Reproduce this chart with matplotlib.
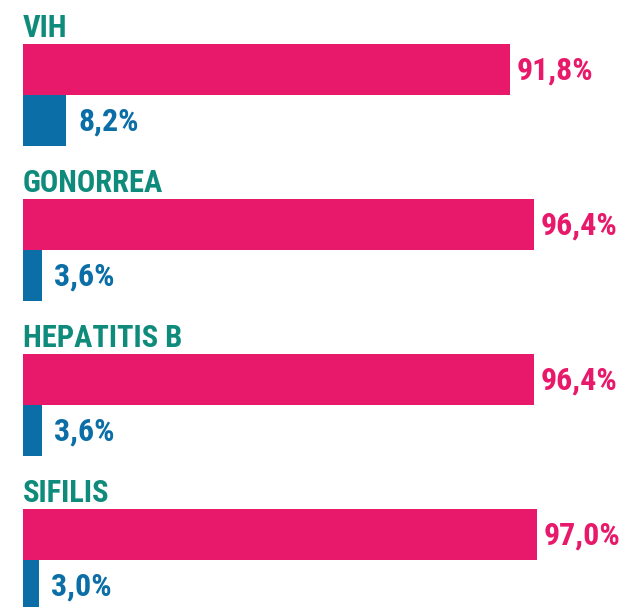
import matplotlib.pyplot as plt
from matplotlib import font_manager

categories = ['VIH', 'GONORREA', 'HEPATITIS B', 'SIFILIS']
pink_values = [91.8, 96.4, 96.4, 97.0]
blue_values = [8.2, 3.6, 3.6, 3.0]

pink = '#e8196a'
blue = '#0b6ea6'
teal = '#0f8b7c'

# pick a condensed face if one is around
installed = {f.name for f in font_manager.fontManager.ttflist}
candidates = ['Roboto Condensed', 'DejaVu Sans Condensed', 'Liberation Sans Narrow',
              'Roboto', 'DejaVu Sans']
font = [c for c in candidates if c in installed][0]


def fmt(v):
    return '{:.1f}%'.format(v).replace('.', ',')


fig = plt.figure(figsize=(6.26, 6.07), dpi=100)
ax = fig.add_axes([0, 0, 1, 1])

# axis in pixel-like units: x scaled so 0 sits at the left margin
scale = 5.3
left = 23
ax.set_xlim(-left / scale, (626 - left) / scale)
ax.set_ylim(607, 0)
ax.axis('off')

step = 155
bar_h = 51
for i, cat in enumerate(categories):
    top = 44 + step * i
    ax.barh(top + bar_h / 2, pink_values[i], height=bar_h, color=pink, left=0)
    ax.barh(top + bar_h * 1.5, blue_values[i], height=bar_h, color=blue, left=0)
    ax.text(0, top - 7, cat, color=teal, fontsize=22, fontweight='bold',
            family=font, va='baseline', ha='left')
    ax.text(pink_values[i] + 7 / scale, top + bar_h / 2 + 1, fmt(pink_values[i]),
            color=pink, fontsize=23, fontweight='bold', family=font,
            va='center', ha='left')
    ax.text(blue_values[i] + 12 / scale, top + bar_h * 1.5 + 1, fmt(blue_values[i]),
            color=blue, fontsize=23, fontweight='bold', family=font,
            va='center', ha='left')

fig.savefig('out.png', dpi=100)
